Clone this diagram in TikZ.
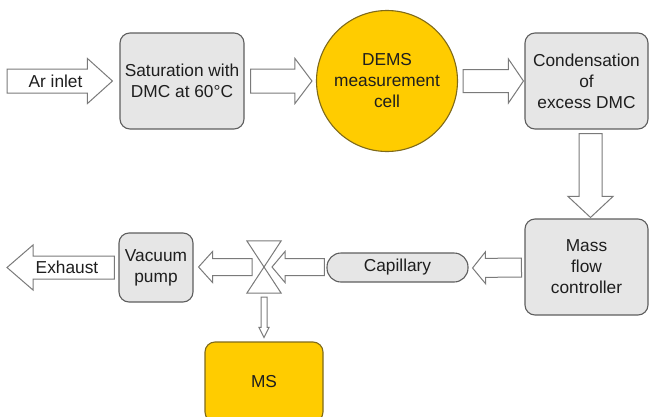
\documentclass[tikz,border=0pt]{standalone}
\usepackage{fontspec}
\setmainfont{Liberation Sans}
\usetikzlibrary{calc}
\definecolor{boxgray}{HTML}{E6E6E6}
\definecolor{boxline}{HTML}{5E5E5E}
\definecolor{arrline}{HTML}{7A7A7A}
\definecolor{gold}{HTML}{FFCC00}
\definecolor{goldline}{HTML}{7F6A1A}
\definecolor{txt}{HTML}{1E1E1E}
% #1 start, #2 tip, #3 shaft half width, #4 head half width, #5 head length
\newcommand{\blockarrow}[5]{%
  \coordinate (baS) at (#1);
  \coordinate (baE) at (#2);
  \coordinate (baH) at ($(baE)!#5!(baS)$);
  \draw[arrowstyle] ($(baS)!#3!90:(baE)$) -- ($(baH)!#3!90:(baE)$) -- ($(baH)!#4!90:(baE)$) -- (baE) -- ($(baH)!#4!-90:(baE)$) -- ($(baH)!#3!-90:(baE)$) -- ($(baS)!#3!-90:(baE)$) -- cycle;
}
\begin{document}
\begin{tikzpicture}[x=1pt,y=-1pt,
  font=\fontsize{17.3}{21}\selectfont, text=txt,
  arrowstyle/.style={draw=arrline, fill=white, line width=1pt, line join=miter},
  graybox/.style={draw=boxline, fill=boxgray, rounded corners=10pt, line width=1.1pt, align=center, inner sep=0pt},
  goldbox/.style={draw=goldline, fill=gold, line width=1.1pt, align=center, inner sep=0pt},
  lbl/.style={inner sep=0pt, align=center}]
\useasboundingbox (0,0) rectangle (649,416);
\clip (0,0) rectangle (649,416);

% nodes
\node[graybox, minimum width=124pt, minimum height=96pt] (sat) at (182,81) {Saturation with\\DMC at 60°C};
\node[goldbox, circle, minimum size=141pt] (dems) at (387,81) {DEMS\\measurement\\cell};
\node[graybox, minimum width=123pt, minimum height=96pt] (cond) at (586.5,81) {Condensation\\of\\excess DMC};
\node[graybox, minimum width=123pt, minimum height=96pt] (mfc) at (586.5,267) {Mass\\flow\\controller};
\node[graybox, rounded corners=14pt, minimum width=141pt, minimum height=29pt] (cap) at (397.5,267.5) {Capillary};
\node[inner sep=0pt, minimum width=34pt, minimum height=52pt] (valve) at (264,267) {};
\node[graybox, minimum width=74pt, minimum height=69pt] (vp) at (156,267.5) {Vacuum\\pump};
\node[goldbox, rounded corners=10pt, minimum width=118pt, minimum height=80pt] (ms) at (264,382) {MS};
\coordinate (arin) at (7,81);
\coordinate (exh) at (7,267.5);

% valve symbol
\draw[arrowstyle] (valve.north west) -- (valve.north east) -- (valve.center) -- cycle;
\draw[arrowstyle] (valve.south west) -- (valve.south east) -- (valve.center) -- cycle;

% block arrows
\blockarrow{arin}{$(sat.west)+(-7,0)$}{12pt}{22.5pt}{25pt}
\blockarrow{$(sat.east)+(6,0)$}{$(dems.west)+(-4,0)$}{12pt}{22.5pt}{17pt}
\blockarrow{$(dems.east)+(5,0)$}{$(cond.west)+(-1,0)$}{11.5pt}{22pt}{15pt}
\blockarrow{$(cond.south)+(4,4)$}{$(mfc.north)+(4,-1)$}{11.5pt}{22.5pt}{21pt}
\blockarrow{$(mfc.west)+(-3,0.5)$}{$(cap.east)+(4,0.5)$}{9.5pt}{16pt}{13pt}
\blockarrow{$(cap.west)+(-2,-0.5)$}{$(valve.center)+(8,0)$}{8.5pt}{15.5pt}{13pt}
\blockarrow{$(valve.center)+(-12,0)$}{$(vp.east)+(5,-0.5)$}{8.5pt}{15.5pt}{14pt}
\blockarrow{$(vp.west)+(-4,0)$}{exh}{11.5pt}{22.5pt}{26pt}
\blockarrow{$(valve.south)+(0,4)$}{$(ms.north)+(0,-4)$}{3pt}{5pt}{10pt}

% arrow labels
\node[lbl] (arlbl) at (55.5,81) {Ar inlet};
\node[lbl] (exlbl) at (67,267.5) {Exhaust};
\end{tikzpicture}
\end{document}
